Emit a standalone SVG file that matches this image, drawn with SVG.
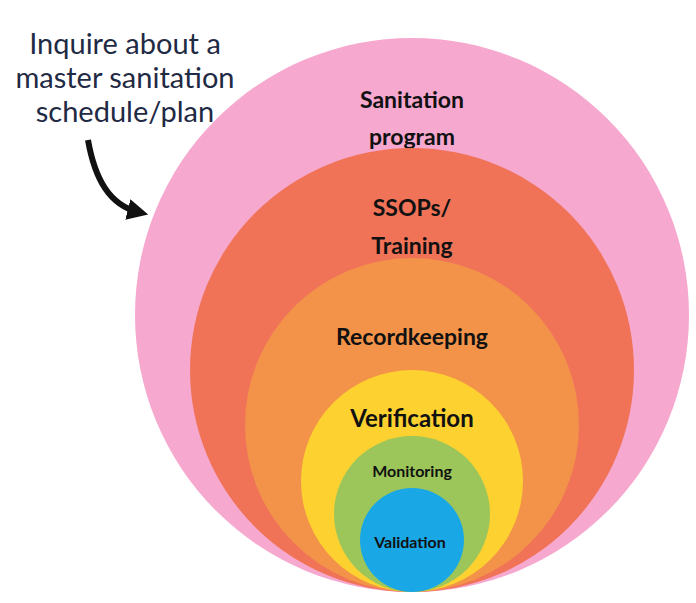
<svg xmlns="http://www.w3.org/2000/svg" width="696" height="603" viewBox="0 0 696 603">
<style>
.l{font-family:Lato,"Open Sans",sans-serif;font-weight:bold;fill:#111;text-anchor:middle}
.q{font-family:Lato,"Open Sans",sans-serif;font-size:29px;fill:#1f2a44;text-anchor:middle}
</style>
<defs><marker id="ah" viewBox="0 0 10 10" refX="5" refY="5" markerWidth="3.5" markerHeight="3.5" orient="auto"><path d="M0,0 L10,5 L0,10 z" fill="#111"/></marker></defs>
<rect width="696" height="603" fill="#fff"/>
<g id="sanitation"><circle cx="412" cy="315" r="277" fill="#f6a8cf"/><text class="l" x="412" y="108" font-size="23">Sanitation</text><text class="l" x="412" y="145" font-size="23">program</text></g>
<g id="ssops"><circle cx="412" cy="370" r="222" fill="#f07358"/><text class="l" x="412" y="216" font-size="23">SSOPs/</text><text class="l" x="412" y="254" font-size="23">Training</text></g>
<g id="record"><circle cx="412" cy="425" r="167" fill="#f3934a"/><text class="l" x="412" y="345" font-size="23">Recordkeeping</text></g>
<g id="verif"><circle cx="412" cy="481" r="111" fill="#fdd130"/><text class="l" x="412" y="427" font-size="24">Verification</text></g>
<g id="monit"><circle cx="412" cy="514" r="78" fill="#9cc65a"/><text class="l" x="412" y="477" font-size="16">Monitoring</text></g>
<g id="valid"><circle cx="412" cy="540" r="52" fill="#1aa7e6"/><text class="l" x="410" y="548" font-size="16">Validation</text></g>
<g id="note"><text class="q" x="125" y="54">Inquire about a</text><text class="q" x="125" y="88">master sanitation</text><text class="q" x="125" y="122">schedule/plan</text></g>
<g id="connectors"><path d="M88,140 C95,180 110,205 138,212" fill="none" stroke="#111" stroke-width="6" marker-end="url(#ah)"/></g>
</svg>
